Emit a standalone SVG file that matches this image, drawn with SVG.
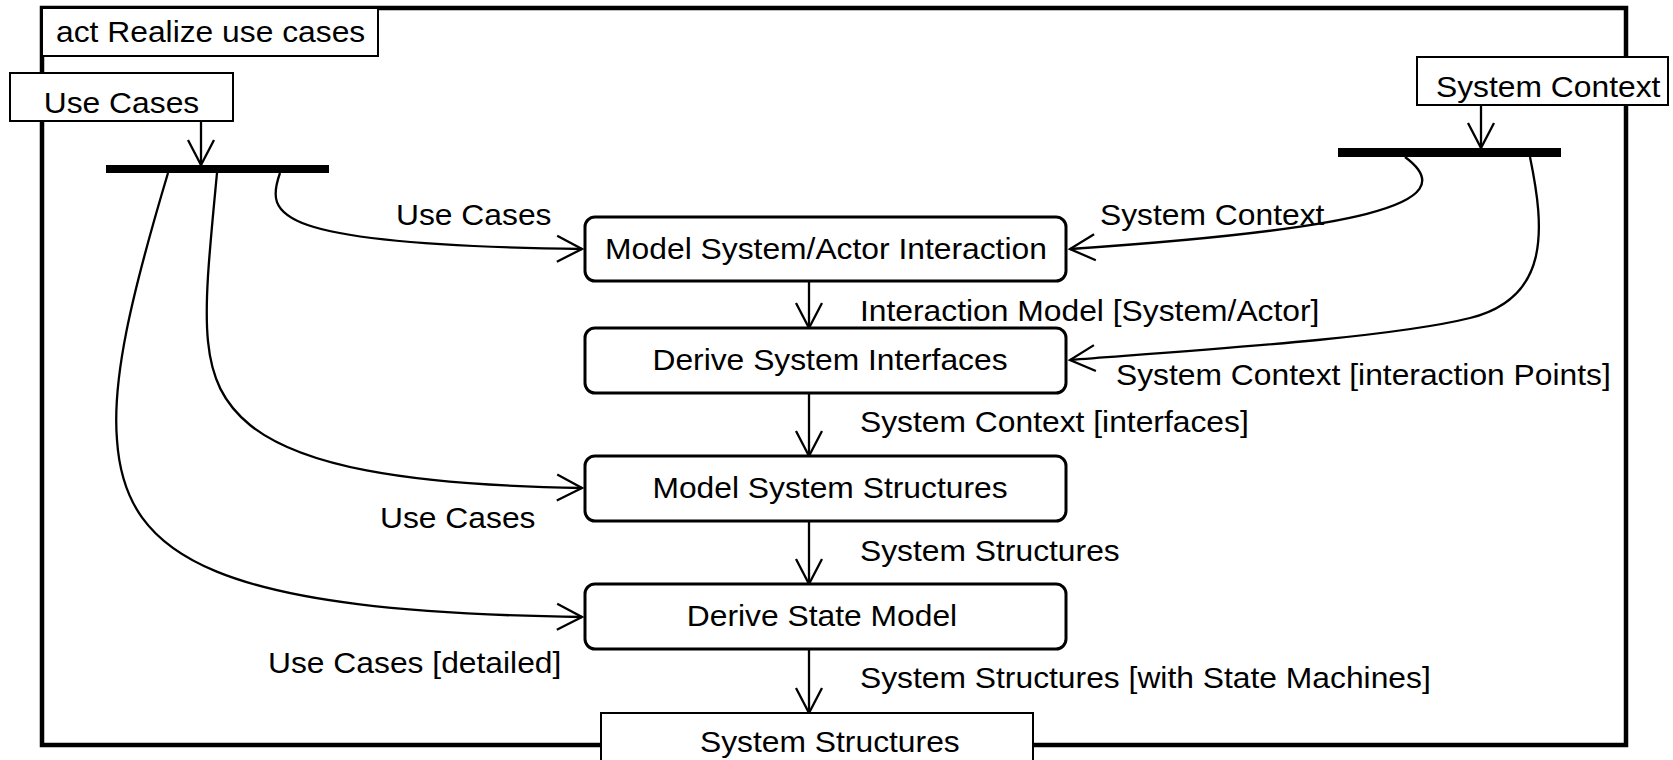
<svg xmlns="http://www.w3.org/2000/svg" width="1673" height="760" viewBox="0 0 1673 760">
<defs>
<style>
.t{font-family:"Liberation Sans",Arial,Helvetica,sans-serif;font-size:30px;fill:#000}
.m{text-anchor:middle}
.node{fill:#fff;stroke:#000;stroke-width:3}
.pin{fill:#fff;stroke:#000;stroke-width:2}
.bar{fill:#000}
.edge{fill:none;stroke:#000;stroke-width:2.3;marker-end:url(#open)}
</style>
<marker id="open" markerUnits="userSpaceOnUse" viewBox="-28 -16 30 32" refX="0" refY="0" markerWidth="30" markerHeight="32" orient="auto" overflow="visible">
<path d="M-25,-13 L0,0 L-25,13" fill="none" stroke="#000" stroke-width="2.3"/>
</marker>
</defs>
<rect width="1673" height="760" fill="#fff"/>
<g id="frame">
<rect x="42" y="8" width="1584" height="737" fill="none" stroke="#000" stroke-width="4.5"/>
<rect x="42" y="8" width="336" height="48" class="pin"/>
<text class="t" transform="translate(56,42) scale(1.06,1)">act Realize use cases</text>
</g>
<g id="connectors">
<path class="edge" d="M201,121 L201,165"/>
<path class="edge" d="M1481,105 L1481,148"/>
<path class="edge" d="M809,281 L809,328"/>
<path class="edge" d="M809,393 L809,456"/>
<path class="edge" d="M809,521 L809,584"/>
<path class="edge" d="M809,649 L809,713"/>
<path class="edge" d="M280,173 C265,215 270,245 582,249"/>
<path class="edge" d="M217,173 C203,320 195,380 250,425 C300,465 400,485 582,488"/>
<path class="edge" d="M168,173 C130,300 112,380 117,440 C125,560 220,612 582,617"/>
<path class="edge" d="M1405,157 C1470,205 1350,230 1070,249"/>
<path class="edge" d="M1530,157 C1545,230 1550,298 1470,318 C1390,338 1200,350 1070,360"/>
<text class="t" transform="translate(396,225) scale(1.06,1)">Use Cases</text>
<text class="t" transform="translate(1100,225) scale(1.06,1)">System Context</text>
<text class="t" transform="translate(860,321) scale(1.06,1)">Interaction Model [System/Actor]</text>
<text class="t" transform="translate(1116,385) scale(1.06,1)">System Context [interaction Points]</text>
<text class="t" transform="translate(860,432) scale(1.06,1)">System Context [interfaces]</text>
<text class="t" transform="translate(380,528) scale(1.06,1)">Use Cases</text>
<text class="t" transform="translate(860,561) scale(1.06,1)">System Structures</text>
<text class="t" transform="translate(268,673) scale(1.06,1)">Use Cases [detailed]</text>
<text class="t" transform="translate(860,688) scale(1.06,1)">System Structures [with State Machines]</text>
</g>
<g id="pin-use-cases">
<rect x="10" y="73" width="223" height="48" class="pin"/>
<text class="t m" transform="translate(121.5,113) scale(1.06,1)">Use Cases</text>
</g>
<g id="pin-system-context">
<rect x="1417" y="57" width="251" height="48" class="pin"/>
<text class="t" transform="translate(1436,97) scale(1.06,1)">System Context</text>
</g>
<g id="fork-left"><rect x="106" y="165" width="223" height="8" class="bar"/></g>
<g id="fork-right"><rect x="1338" y="148" width="223" height="9" class="bar"/></g>
<g id="node-model-interaction">
<rect x="585" y="217" width="481" height="64" rx="10" class="node"/>
<text class="t m" transform="translate(826,259) scale(1.06,1)">Model System/Actor Interaction</text>
</g>
<g id="node-derive-interfaces">
<rect x="585" y="328" width="481" height="65" rx="10" class="node"/>
<text class="t m" transform="translate(830,370) scale(1.06,1)">Derive System Interfaces</text>
</g>
<g id="node-model-structures">
<rect x="585" y="456" width="481" height="65" rx="10" class="node"/>
<text class="t m" transform="translate(830,498) scale(1.06,1)">Model System Structures</text>
</g>
<g id="node-derive-state">
<rect x="585" y="584" width="481" height="65" rx="10" class="node"/>
<text class="t m" transform="translate(822,626) scale(1.06,1)">Derive State Model</text>
</g>
<g id="pin-system-structures">
<rect x="601" y="713" width="432" height="60" class="pin"/>
<text class="t" transform="translate(700,752) scale(1.06,1)">System Structures</text>
</g>
</svg>
